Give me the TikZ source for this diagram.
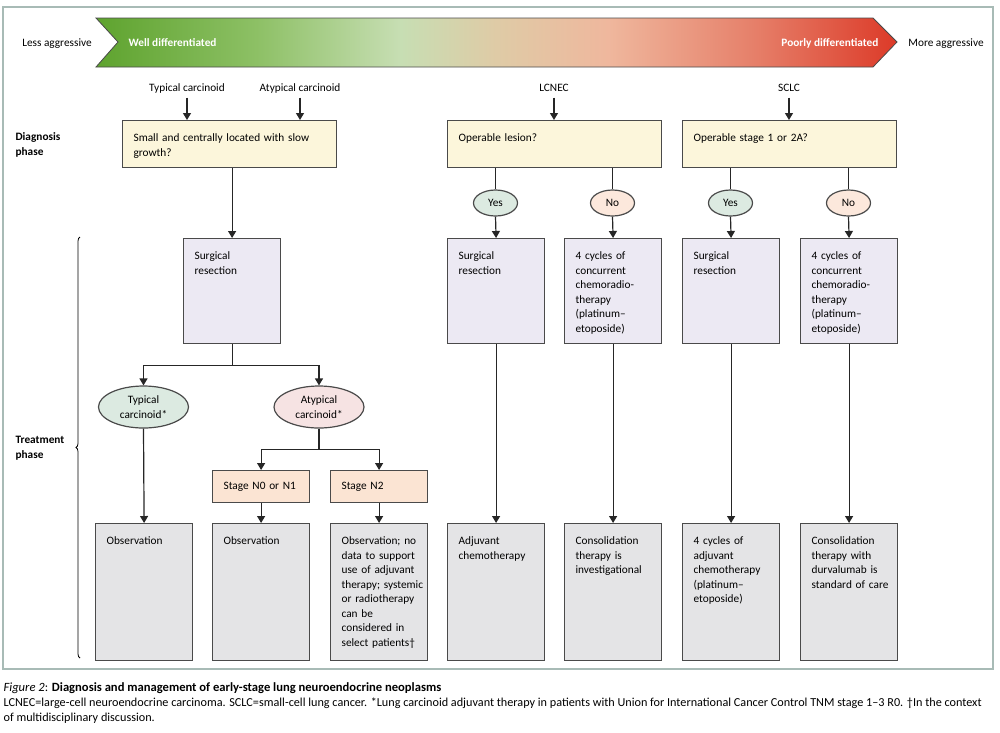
\documentclass[tikz,border=0pt]{standalone}
\usepackage{fontspec}
\setmainfont{Carlito}
\usetikzlibrary{arrows.meta,shapes.geometric,decorations.pathreplacing}

\definecolor{frameC}{HTML}{A8BBB6}
\definecolor{edgeC}{HTML}{4A4A4A}
\definecolor{diagC}{HTML}{FCF6DB}
\definecolor{surgC}{HTML}{ECE9F3}
\definecolor{outC}{HTML}{E4E4E6}
\definecolor{stageC}{HTML}{FBE4D3}
\definecolor{yesC}{HTML}{DCEAE1}
\definecolor{noC}{HTML}{FCE8DC}
\definecolor{atypC}{HTML}{F6E3E3}
\definecolor{grA}{HTML}{5EA32E}
\definecolor{grB}{HTML}{8DC065}
\definecolor{grC}{HTML}{C7DEB3}
\definecolor{beC}{HTML}{DFCBA6}
\definecolor{peC}{HTML}{EFB79D}
\definecolor{saC}{HTML}{E6806A}
\definecolor{reC}{HTML}{DC3A28}

\pgfdeclarehorizontalshading{aggshade}{100bp}{color(0bp)=(grA); color(25bp)=(grA); color(35bp)=(grB); color(44bp)=(grC); color(50bp)=(beC); color(57bp)=(peC); color(66bp)=(saC); color(75bp)=(reC); color(100bp)=(reC)}

\newcommand{\bodyfont}{\fontsize{11.3}{14.5}\selectfont\hyphenpenalty=10000 }

\tikzset{
  every path/.style={line width=1.2pt},
  txt/.style={font=\bodyfont, inner sep=0pt},
  lbl/.style={font=\bodyfont, inner sep=3.5pt, text height=8pt, text depth=2.5pt, anchor=base},
  bx/.style={draw=edgeC, font=\bodyfont, anchor=north west, align=left, text width=75pt, inner xsep=11pt, inner ysep=9pt, text height=12pt},
  diagbox/.style={bx, fill=diagC, text width=192pt, text depth=17pt},
  surgbox/.style={bx, fill=surgC, text depth=75pt},
  outbox/.style={bx, fill=outC, text depth=107pt},
  stagebox/.style={draw=edgeC, fill=stageC, font=\bodyfont, anchor=north west, align=left, text width=75pt, inner xsep=11pt, inner ysep=0pt, minimum height=32pt},
  oval/.style={ellipse, draw=edgeC, font=\bodyfont, align=center, inner sep=0pt, minimum width=90pt, minimum height=42pt},
  yn/.style={oval, minimum width=44pt, minimum height=26pt},
  arr/.style={-{Triangle[width=8pt,length=7pt]}, draw=black!85},
  conn/.style={draw=black!85},
  phase/.style={font=\bodyfont\bfseries, inner sep=0pt, anchor=base west, align=left}
}

\begin{document}
\begin{tikzpicture}[x=1pt,y=-1pt]
\useasboundingbox (0,0) rectangle (1000,732);
\draw[frameC, line width=1.5pt] (3,7) rectangle (993,669);
\shadedraw[shading=aggshade, draw=edgeC, line width=0.8pt] (96,18) -- (873,18) -- (897,42) -- (873,67) -- (96,67) -- (118,42) -- cycle;

\node[lbl] (lessAg) at (57,46) {Less aggressive};
\node[lbl] (moreAg) at (946,46) {More aggressive};
\node[txt, anchor=base west, text=white, font=\bodyfont\bfseries] (wellD) at (128,46) {Well differentiated};
\node[txt, anchor=base east, text=white, font=\bodyfont\bfseries] (poorD) at (879,46) {Poorly differentiated};

\node[phase] (diagPh) at (15,155) {Diagnosis\\phase};
\node[phase] (treatPh) at (15,458) {Treatment\\phase};
\draw[decorate, decoration={brace, amplitude=4pt}, line width=0.8pt] (80,658) -- (80,237);

\node[lbl] (tcLbl) at (187,91) {Typical carcinoid};
\node[lbl] (acLbl) at (300,91) {Atypical carcinoid};
\node[lbl] (lcLbl) at (554,91) {LCNEC};
\node[lbl] (scLbl) at (789,91) {SCLC};

\node[diagbox] (dg1) at (122,120) {Small and centrally located with slow\\growth?};
\node[diagbox] (dg2) at (447,120) {Operable lesion?};
\node[diagbox] (dg3) at (682,120) {Operable stage 1 or 2A?};

\node[yn, fill=yesC] (y1) at (495.5,203) {Yes};
\node[yn, fill=noC] (n1) at (612.5,203) {No};
\node[yn, fill=yesC] (y2) at (730.5,203) {Yes};
\node[yn, fill=noC] (n2) at (848.5,203) {No};

\node[surgbox] (sr1) at (183,238) {Surgical\\resection};
\node[surgbox] (srL) at (447,238) {Surgical\\resection};
\node[surgbox] (chL) at (564,238) {4 cycles of\\concurrent\\chemoradio-\\therapy\\(platinum–\\etoposide)};
\node[surgbox] (srS) at (682,238) {Surgical\\resection};
\node[surgbox] (chS) at (800,238) {4 cycles of\\concurrent\\chemoradio-\\therapy\\(platinum–\\etoposide)};

\node[oval, fill=yesC] (tcEl) at (143.5,407) {Typical\\carcinoid*};
\node[oval, fill=atypC] (acEl) at (319,407) {Atypical\\carcinoid*};

\node[stagebox] (st1) at (212,470) {Stage N0 or N1};
\node[stagebox] (st2) at (330,470) {Stage N2};

\node[outbox] (ob1) at (95,523) {Observation};
\node[outbox] (ob2) at (212,523) {Observation};
\node[outbox] (ob3) at (330,523) {Observation;~no\\data~to~support\\use~of~adjuvant\\therapy;~systemic\\or~radiotherapy\\can~be\\considered~in\\select~patients†};
\node[outbox] (adjL) at (447,523) {Adjuvant\\chemotherapy};
\node[outbox] (conL) at (564,523) {Consolidation\\therapy~is\\investigational};
\node[outbox] (adjS) at (682,523) {4~cycles~of\\adjuvant\\chemotherapy\\(platinum–\\etoposide)};
\node[outbox] (conS) at (800,523) {Consolidation\\therapy~with\\durvalumab~is\\standard~of~care};

\draw[arr] (tcLbl.south) -- (tcLbl.south |- dg1.north);
\draw[arr] (acLbl.south) -- (acLbl.south |- dg1.north);
\draw[arr] (lcLbl.south) -- (lcLbl.south |- dg2.north);
\draw[arr] (scLbl.south) -- (scLbl.south |- dg3.north);

\draw[arr] (dg1.south -| sr1.north) -- (sr1.north);
\draw[arr] (sr1.south) -- ++(0,21) -| (tcEl.north);
\draw[arr] (sr1.south) ++(0,21) -| (acEl.north);
\draw[arr] (tcEl.south) -- (ob1.north);
\draw[arr] (acEl.south) -- ++(0,21) -| (st1.north);
\draw[arr] (acEl.south) ++(0,21) -| (st2.north);
\draw[arr] (st1.south) -- (ob2.north);
\draw[arr] (st2.south) -- (ob3.north);

\draw[conn] (dg2.south -| y1.north) -- (y1.north);
\draw[conn] (dg2.south -| n1.north) -- (n1.north);
\draw[conn] (dg3.south -| y2.north) -- (y2.north);
\draw[conn] (dg3.south -| n2.north) -- (n2.north);
\draw[arr] (y1.south) -- (srL.north);
\draw[arr] (n1.south) -- (chL.north);
\draw[arr] (y2.south) -- (srS.north);
\draw[arr] (n2.south) -- (chS.north);
\draw[arr] (srL.south) -- (adjL.north);
\draw[arr] (chL.south) -- (conL.north);
\draw[arr] (srS.south) -- (adjS.north);
\draw[arr] (chS.south) -- (conS.north);

\node[txt, anchor=base west, font=\fontsize{12.6}{15}\selectfont] (capTitle) at (3,691) {\textit{Figure 2}: \textbf{Diagnosis and management of early-stage lung neuroendocrine neoplasms}};
\node[txt, anchor=base west, align=left, font=\fontsize{12.2}{15}\selectfont] (capBody) at (3,721) {LCNEC=large-cell neuroendocrine carcinoma. SCLC=small-cell lung cancer. *Lung carcinoid adjuvant therapy in patients with Union for International Cancer Control TNM stage 1–3 R0. †In the context\\of multidisciplinary discussion.};
\end{tikzpicture}
\end{document}
